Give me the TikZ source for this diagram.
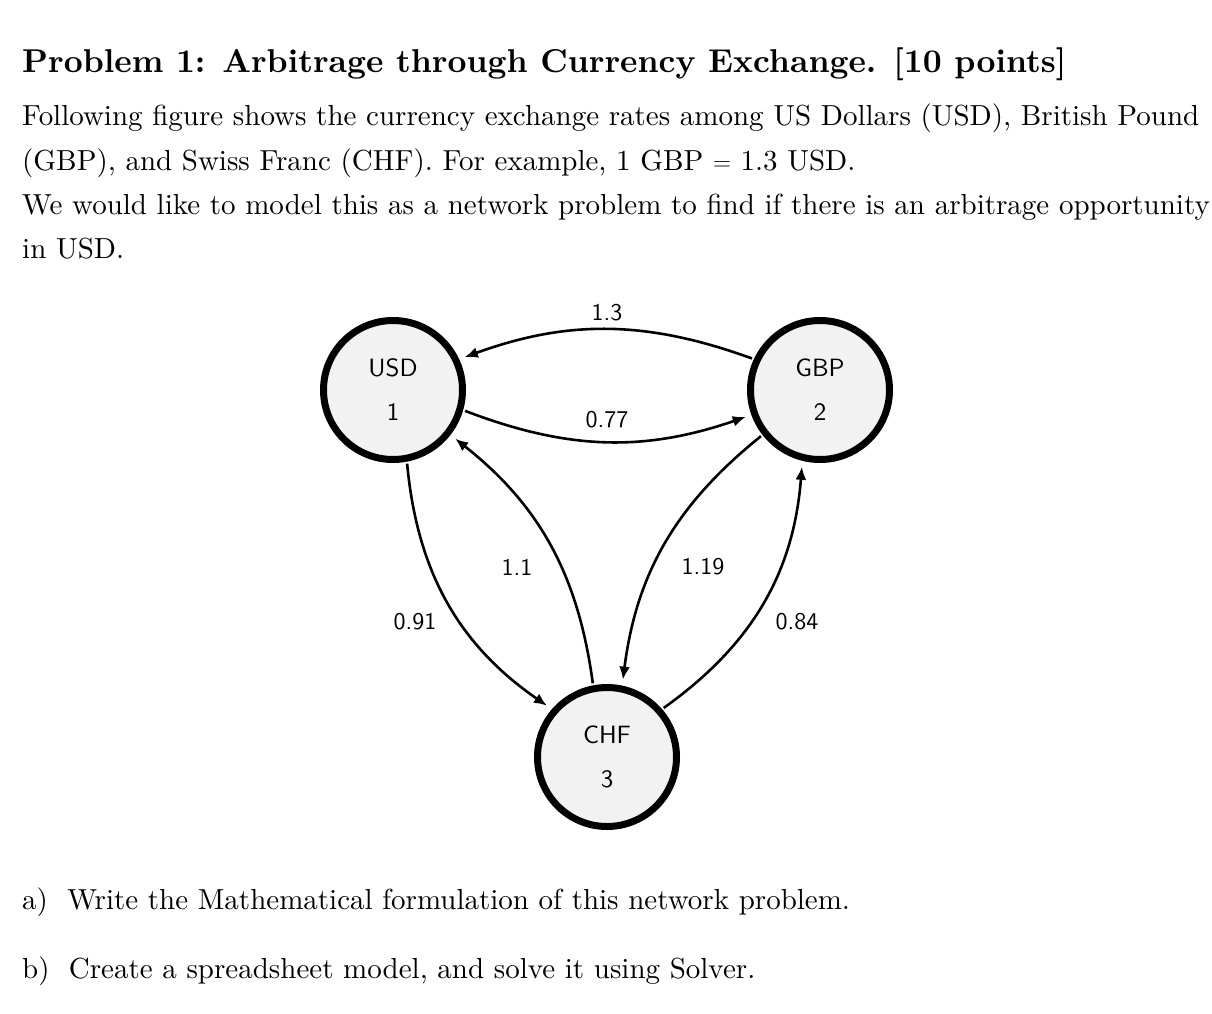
\documentclass[tikz,border=0pt]{standalone}
\usepackage{fontspec}
\setmainfont{lmroman10-regular.otf}[BoldFont=lmroman10-bold.otf]
\setsansfont{lmsans10-regular.otf}
\usetikzlibrary{arrows.meta}
\begin{document}
\begin{tikzpicture}[x=1pt,y=-1pt,
  cur/.style={circle,draw,line width=7pt,fill=black!5,minimum size=139pt,inner sep=0pt,align=center,font=\sffamily\fontsize{25}{44}\selectfont},
  arr/.style={line width=2.6pt,-{Latex[length=13pt,width=11pt]},shorten >=6pt,shorten <=2pt},
  lab/.style={font=\sffamily\fontsize{24}{28}\selectfont},
  body/.style={anchor=base west,inner sep=0pt,font=\fontsize{29}{33}\selectfont}]
\useasboundingbox (0,0) rectangle (1212,1014);
\node[body,font=\bfseries\fontsize{33}{40}\selectfont] (t) at (22,73) {Problem 1: Arbitrage through Currency Exchange. [10 points]};
\node[body] (p1) at (22,125) {Following figure shows the currency exchange rates among US Dollars (USD), British Pound};
\node[body] (p2) at (22,170) {(GBP), and Swiss Franc (CHF). For example, 1 GBP $=$ 1.3 USD.};
\node[body] (p3) at (22,214) {We would like to model this as a network problem to find if there is an arbitrage opportunity};
\node[body] (p4) at (22,258) {in USD.};
\node[body] (qa) at (22,909) {a)\ \ Write the Mathematical formulation of this network problem.};
\node[body] (qb) at (22,978) {b)\ \ Create a spreadsheet model, and solve it using Solver.};

\node[cur] (u) at (393,390) {USD\\1};
\node[cur] (g) at (820,390) {GBP\\2};
\node[cur] (c) at (607,757) {CHF\\3};

\draw[arr] (g.155) to[bend right=20] (u.25);
\draw[arr] (u.-16) to[bend right=20] (g.200);
\draw[arr] (u.-79) to[bend right=25] (c.139);
\draw[arr] (c.101) to[bend right=22] (u.-38);
\draw[arr] (g.218) to[bend right=22] (c.78);
\draw[arr] (c.41) to[bend right=25] (g.-104);

\node[lab] (l1) at (607,313) {1.3};
\node[lab] (l2) at (607,420) {0.77};
\node[lab] (l3) at (415,622) {0.91};
\node[lab] (l4) at (517,567) {1.1};
\node[lab] (l5) at (703,567) {1.19};
\node[lab] (l6) at (797,622) {0.84};
\end{tikzpicture}
\end{document}
